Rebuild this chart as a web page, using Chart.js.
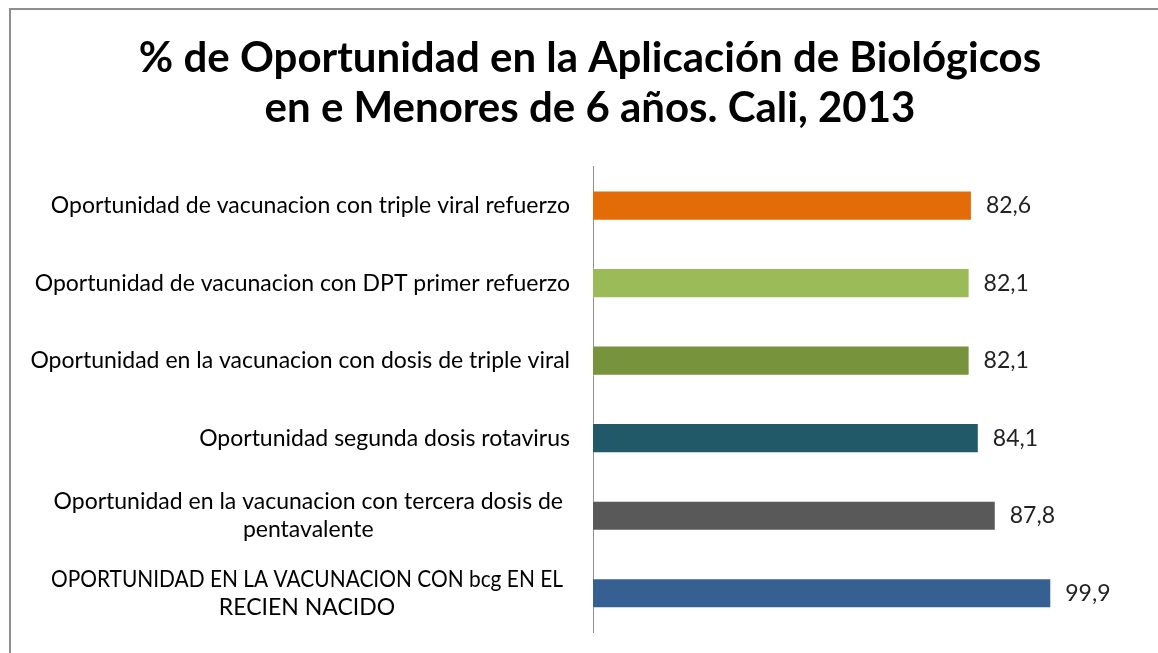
<!DOCTYPE html>
<html>
<head>
<meta charset="utf-8">
<title>Oportunidad en la Aplicación de Biológicos</title>
<script src="https://cdn.jsdelivr.net/npm/chart.js@4.4.0/dist/chart.umd.min.js"></script>
<style>
    html, body { margin: 0; padding: 0; background: #fff; overflow: hidden; }
    #frame { position: absolute; left: 9px; top: 8px; width: 1200px; height: 700px;
             border-left: 2px solid #8e8e8e; border-top: 2px solid #8e8e8e; }
    #wrap { position: absolute; left: 9px; top: 8px; width: 1162px; height: 660px; }
</style>
</head>
<body>
<div id="frame"></div>
<div id="wrap"><canvas id="bar_chart" width="1162" height="660"></canvas></div>
<script>
// categories, top to bottom (multi-line labels as arrays)
var categories = [
    ["Oportunidad de vacunacion con triple viral refuerzo"],
    ["Oportunidad de vacunacion con DPT primer refuerzo"],
    ["Oportunidad en la vacunacion con dosis de triple viral"],
    ["Oportunidad segunda dosis rotavirus"],
    ["Oportunidad en la vacunacion con tercera dosis de", "pentavalente"],
    ["OPORTUNIDAD EN LA VACUNACION CON bcg EN EL", "RECIEN NACIDO"]
];
var values = [82.6, 82.1, 82.1, 84.1, 87.8, 99.9];
var barColors = ["#E36C09", "#9BBB59", "#77933C", "#215968", "#595959", "#376092"];
var titleLines = [
    "% de Oportunidad en la Aplicación de Biológicos",
    "en e Menores de 6 años. Cali, 2013"
];

var fontFamily = "Lato, 'Open Sans', sans-serif";

// draws the category labels (right aligned block, lines centred) and the value labels
var textPlugin = {
    id: 'textPlugin',
    afterDraw: function(chart) {
        var ctx = chart.ctx;
        var yScale = chart.scales.y;
        var area = chart.chartArea;
        ctx.save();
        ctx.fillStyle = '#000';
        ctx.textBaseline = 'middle';
        ctx.font = '23px ' + fontFamily;
        ctx.textAlign = 'center';
        categories.forEach(function(lines, i) {
            var cy = yScale.getPixelForValue(i);
            // wrapped labels are kept inside a narrower box, like the original
            var maxW = lines.length > 1 ? 512 : 560;
            var w = Math.max.apply(null, lines.map(function(l) {
                return Math.min(ctx.measureText(l).width, maxW);
            }));
            var right = lines.length > 1 ? area.left - 30 : area.left - 23;
            var cx = right - w / 2;
            var lh = 28;
            lines.forEach(function(l, j) {
                ctx.fillText(l, cx, cy + (j - (lines.length - 1) / 2) * lh, maxW);
            });
        });
        ctx.textAlign = 'left';
        ctx.fillStyle = '#222';
        chart.getDatasetMeta(0).data.forEach(function(bar, i) {
            ctx.fillText(values[i].toFixed(1).replace('.', ','), bar.x + 14, bar.y);
        });
        ctx.restore();
    }
};

var barData = {
    labels: categories.map(function(c) { return c.join(' '); }),
    datasets: [{
        data: values,
        backgroundColor: barColors,
        borderColor: 'rgba(255,255,255,0.35)',
        borderWidth: 1,
        barPercentage: 0.39,
        categoryPercentage: 1
    }]
};

var barOptions = {
    indexAxis: 'y',
    responsive: false,
    animation: false,
    devicePixelRatio: 1,
    layout: { padding: { left: 0, right: 0, top: 0, bottom: 36 } },
    plugins: {
        legend: { display: false },
        tooltip: { enabled: false },
        title: {
            display: true,
            text: titleLines,
            color: '#000',
            font: { family: fontFamily, size: 42, weight: 'bold', lineHeight: 1.19 },
            padding: { top: 25, bottom: 34 }
        }
    },
    scales: {
        x: { display: false, min: 0, max: 126 },
        y: {
            display: true,
            ticks: { display: false },
            grid: { display: false },
            border: { display: true, color: '#8e8e8e', width: 1 },
            afterFit: function(scale) { scale.width = 584; }
        }
    }
};

var ctx = document.getElementById("bar_chart").getContext("2d");
new Chart(ctx, { type: 'bar', data: barData, options: barOptions, plugins: [textPlugin] });
</script>
</body>
</html>
